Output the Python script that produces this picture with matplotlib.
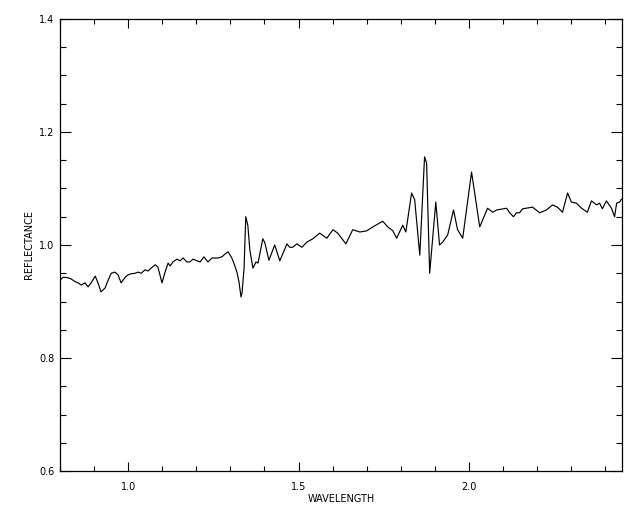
import matplotlib
matplotlib.use('Agg')
import matplotlib.pyplot as plt
from matplotlib.ticker import MultipleLocator

# spectrum
wavelength = [0.800, 0.809, 0.823, 0.832, 0.844, 0.853, 0.862, 0.873, 0.882, 0.891,
              0.903, 0.911, 0.920, 0.932, 0.941, 0.950, 0.961, 0.970, 0.979, 0.991,
              0.999, 1.008, 1.020, 1.029, 1.038, 1.049, 1.058, 1.067, 1.079, 1.087,
              1.099, 1.108, 1.117, 1.123, 1.131, 1.143, 1.152, 1.161, 1.172, 1.181,
              1.190, 1.202, 1.211, 1.222, 1.234, 1.246, 1.255, 1.263, 1.275, 1.284,
              1.293, 1.304, 1.310, 1.319, 1.325, 1.331, 1.334, 1.340, 1.345, 1.351,
              1.357, 1.366, 1.375, 1.381, 1.395, 1.401, 1.413, 1.430, 1.445, 1.466,
              1.474, 1.483, 1.495, 1.510, 1.524, 1.542, 1.562, 1.583, 1.601, 1.615,
              1.639, 1.659, 1.680, 1.700, 1.718, 1.747, 1.762, 1.777, 1.788, 1.806,
              1.815, 1.832, 1.841, 1.856, 1.870, 1.876, 1.885, 1.903, 1.914, 1.923,
              1.938, 1.955, 1.967, 1.982, 2.008, 2.032, 2.055, 2.070, 2.082, 2.111,
              2.120, 2.131, 2.140, 2.149, 2.158, 2.187, 2.208, 2.228, 2.246, 2.260,
              2.275, 2.290, 2.301, 2.316, 2.331, 2.348, 2.360, 2.375, 2.384, 2.392,
              2.404, 2.419, 2.428, 2.434, 2.443, 2.448]
reflectance = [0.938, 0.943, 0.942, 0.940, 0.935, 0.933, 0.929, 0.933, 0.926, 0.933,
               0.945, 0.933, 0.917, 0.924, 0.938, 0.950, 0.952, 0.947, 0.933, 0.943,
               0.947, 0.949, 0.950, 0.952, 0.950, 0.956, 0.954, 0.959, 0.965, 0.961,
               0.933, 0.952, 0.968, 0.963, 0.970, 0.975, 0.972, 0.977, 0.970, 0.970,
               0.975, 0.972, 0.970, 0.979, 0.970, 0.977, 0.977, 0.977, 0.979, 0.984,
               0.988, 0.977, 0.968, 0.952, 0.935, 0.908, 0.915, 0.959, 1.050, 1.035,
               0.991, 0.959, 0.970, 0.968, 1.011, 1.004, 0.973, 1.000, 0.972, 1.002,
               0.996, 0.996, 1.002, 0.996, 1.005, 1.011, 1.021, 1.012, 1.027, 1.021,
               1.002, 1.027, 1.023, 1.025, 1.032, 1.042, 1.032, 1.025, 1.012, 1.035,
               1.023, 1.092, 1.080, 0.982, 1.156, 1.145, 0.950, 1.076, 1.000, 1.005,
               1.018, 1.062, 1.027, 1.012, 1.129, 1.032, 1.065, 1.058, 1.062, 1.065,
               1.057, 1.050, 1.057, 1.057, 1.064, 1.067, 1.057, 1.062, 1.071, 1.067,
               1.058, 1.092, 1.076, 1.074, 1.065, 1.058, 1.078, 1.071, 1.074, 1.064,
               1.078, 1.065, 1.050, 1.074, 1.076, 1.081]

fig = plt.figure(figsize=(6.4, 5.12), dpi=100)
ax = fig.add_axes([0.094, 0.080, 0.878, 0.883])
ax.plot(wavelength, reflectance, color='black', linewidth=0.85)

ax.set_xlim(0.8, 2.45)
ax.set_ylim(0.6, 1.4)
ax.xaxis.set_major_locator(MultipleLocator(0.5))
ax.xaxis.set_minor_locator(MultipleLocator(0.1))
ax.yaxis.set_major_locator(MultipleLocator(0.2))
ax.yaxis.set_minor_locator(MultipleLocator(0.05))
ax.xaxis.set_major_formatter(plt.FormatStrFormatter('%.1f'))
ax.yaxis.set_major_formatter(plt.FormatStrFormatter('%.1f'))

ax.tick_params(axis='both', which='both', direction='in', top=True, right=True,
               labelsize=7, width=0.8, color='black')
ax.tick_params(axis='x', which='major', length=6.5, pad=8)
ax.tick_params(axis='x', which='minor', length=3.3)
ax.tick_params(axis='y', which='major', length=8, pad=4)
ax.tick_params(axis='y', which='minor', length=4.5)
for s in ax.spines.values():
    s.set_linewidth(0.9)

ax.set_xlabel('WAVELENGTH', fontsize=7, labelpad=1)
ax.set_ylabel('REFLECTANCE', fontsize=7, labelpad=4)

fig.savefig('out.png', dpi=100)
